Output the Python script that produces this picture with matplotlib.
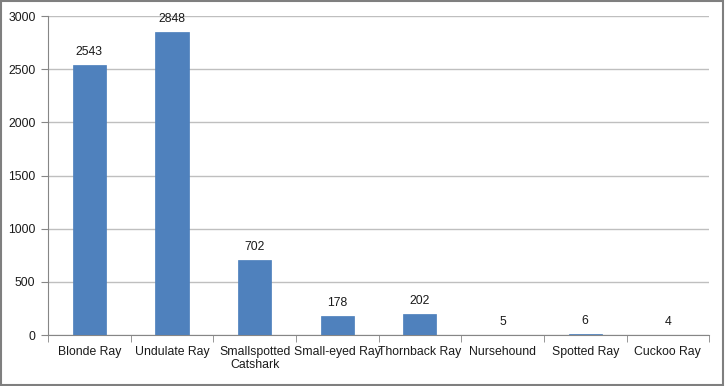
import numpy as np
import matplotlib.pyplot as plt
from matplotlib.patches import Rectangle

plt.rcParams['font.family'] = ['Liberation Sans', 'DejaVu Sans']
plt.rcParams['font.size'] = 8.8

species = ["Blonde Ray", "Undulate Ray", "Smallspotted\nCatshark", "Small-eyed Ray",
           "Thornback Ray", "Nursehound", "Spotted Ray", "Cuckoo Ray"]
counts = [2543, 2848, 702, 178, 202, 5, 6, 4]

fig = plt.figure(figsize=(7.25, 3.86), dpi=100)
ax = fig.add_axes([0.0662, 0.132, 0.912, 0.8265])

i = np.arange(len(species))
ax.bar(i, counts, 0.4, color="#4F81BD", edgecolor="#4A7EBB", linewidth=0.5, zorder=3)

for xi, v in zip(i, counts):
    ax.annotate(str(v), (xi, v), xytext=(0, 5), textcoords="offset points",
                ha="center", va="bottom", color="#1a1a1a")

ax.set_xlim(-0.5, len(species) - 0.5)
ax.set_ylim(0, 3000)
ax.set_yticks(np.arange(0, 3001, 500))
ax.yaxis.grid(True, color="#BFBFBF", linewidth=1)
ax.set_axisbelow(True)

ax.set_xticks(i)
ax.set_xticklabels(species, color="#1a1a1a", linespacing=1.1)
ax.set_xticks(np.arange(-0.5, len(species), 1), minor=True)
ax.tick_params(axis="x", which="major", length=0, pad=8)
ax.tick_params(axis="x", which="minor", length=5, color="#868686")
ax.tick_params(axis="y", length=5, color="#868686", labelcolor="#1a1a1a", pad=4)

for s in ["top", "right"]:
    ax.spines[s].set_visible(False)
for s in ["left", "bottom"]:
    ax.spines[s].set_color("#868686")

# outer chart border
fig.patches.append(Rectangle((0.002, 0.003), 0.995, 0.994, transform=fig.transFigure,
                             fill=False, edgecolor="#7F7F7F", linewidth=1.5))

fig.savefig("out.png", dpi=100)
